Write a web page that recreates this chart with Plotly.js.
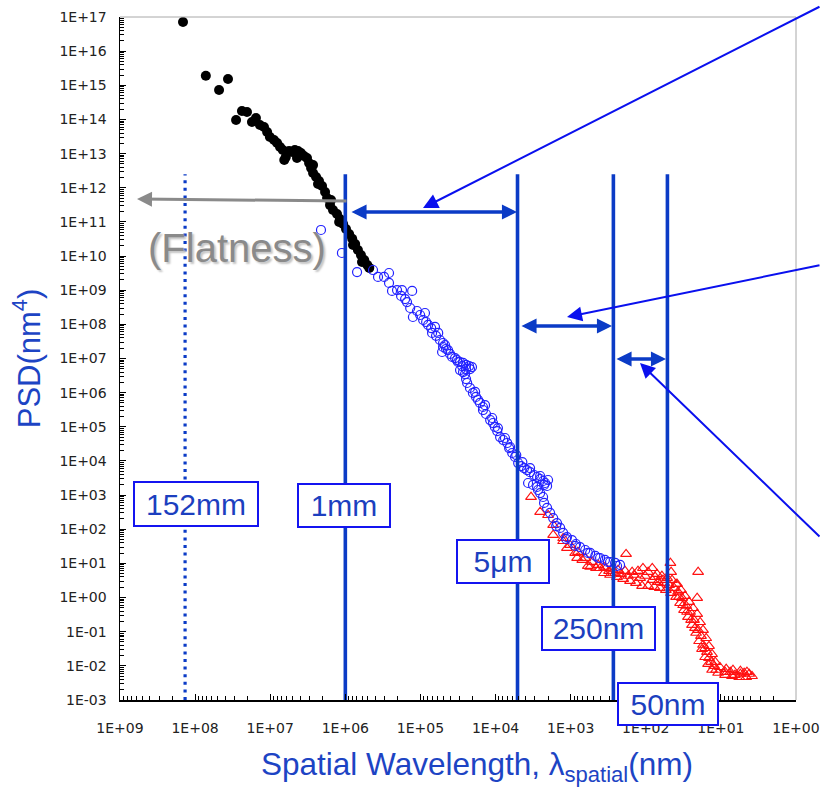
<!DOCTYPE html>
<html>
<head>
<meta charset="utf-8">
<script src="https://cdn.plot.ly/plotly-3.0.1.min.js"></script>
<style>html,body{margin:0;padding:0;background:#fff;}#chart{width:821px;height:788px;}</style>
</head>
<body>
<div id="chart"></div>
<script>
// ---- tick labels ----
const xTickVals = [1e9, 1e8, 1e7, 1e6, 1e5, 1e4, 1e3, 1e2, 1e1, 1e0];
const xTickText = ['1E+09','1E+08','1E+07','1E+06','1E+05','1E+04','1E+03','1E+02','1E+01','1E+00'];
const yTickVals = [1e17,1e16,1e15,1e14,1e13,1e12,1e11,1e10,1e9,1e8,1e7,1e6,1e5,1e4,1e3,1e2,1e1,1e0,1e-1,1e-2,1e-3];
const yTickText = ['1E+17','1E+16','1E+15','1E+14','1E+13','1E+12','1E+11','1E+10','1E+09','1E+08','1E+07','1E+06','1E+05','1E+04','1E+03','1E+02','1E+01','1E+00','1E-01','1E-02','1E-03'];

// ---- black series (filled circles) ----
const blackWavelength = [1.45e8,7.2e7,4.8e7,3.65e7,2.85e7,2.38e7,2.04e7,1.75e7,1.55e7,
  1.37e7,1.21e7,1.10e7,1.01e7,8.9e6,8.1e6,7.4e6,6.8e6,6.2e6,5.6e6,5.1e6,4.7e6,4.27e6,3.9e6,3.55e6,3.24e6,
  3.04e6,2.86e6,2.69e6,2.45e6,2.24e6,2.04e6,1.86e6,1.75e6,1.6e6,1.46e6,1.29e6,1.18e6,1.07e6,9.8e5,8.9e5,
  8.1e5,7.4e5,6.8e5,6.2e5,5.6e5,5.1e5,4.8e5,
  6.5e6,4.4e6,2.31e6,1.55e6,1.21e6,7.9e5,6.0e5,2.69e6];
const blackPSD = [7.1e16,1.9e15,7.3e14,1.53e15,9.6e13,1.77e14,1.65e14,8.4e13,1.1e14,
  6.9e13,6.0e13,4.3e13,3.06e13,2.5e13,2.04e13,1.56e13,1.27e13,7.9e12,1.19e13,1.11e13,1.27e13,1.19e13,1.04e13,8.5e12,7.4e12,
  5.3e12,3.8e12,2.7e12,2.07e12,1.58e12,1.12e12,7.5e11,5.0e11,3.1e11,2.23e11,1.7e11,1.22e11,8.7e10,6.2e10,4.4e10,
  3.2e10,2.25e10,1.5e10,1.07e10,7.7e9,5.5e9,4.5e9,
  6.5e12,7.4e12,1.29e12,4.4e11,9.9e10,2.1e10,6.7e9,4.6e12];

// ---- blue series (open circles) ----
const blueWavelength = [2.11e6,1.11e6,6.98e5,4.28e5,3.67e5,3.05e5,2.62e5,2.62e5,2.39e5,2.05e5,1.76e5,1.29e5,1.81e5,1.6e5,
  1.51e5,1.37e5,1.26e5,1.11e5,1.01e5,8.7e4,9.2e4,8.4e4,7.9e4,7.2e4,6.4e4,7.0e4,6.2e4,5.8e4,5.5e4,5.0e4,5.0e4,4.56e4,
  5.15e4,4.29e4,4.04e4,3.79e4,3.46e4,3.26e4,2.97e4,2.71e4,2.47e4,2.25e4,2.06e4,2.19e4,
  4.7e4,3.16e4,2.47e4,2.79e4,
  2.97e4,2.71e4,2.55e4,2.47e4,2.39e4,2.19e4,2.0e4,1.82e4,1.71e4,1.61e4,1.47e4,1.47e4,1.34e4,1.18e4,1.08e4,1.02e4,
  9.5e3,8.7e3,7.9e3,7.0e3,6.6e3,6.0e3,5.5e3,5.0e3,4.57e3,4.18e3,3.81e3,3.47e3,3.07e3,2.8e3,2.55e3,2.33e3,2.19e3,2.26e3,
  1.87e4,1.38e4,1.11e4,9.3e3,7.5e3,6.4e3,5.3e3,4.4e3,3.47e3,2.55e3,2.0e3,2.06e3,
  3.69e3,3.17e3,2.8e3,2.72e3,2.55e3,2.33e3,2.26e3,2.06e3,1.88e3,1.71e3,1.52e3,1.38e3,1.26e3,1.12e3,9.6e2,8.5e2,7.5e2,
  6.4e2,5.5e2,4.7e2,4.06e2,3.5e2,2.99e2,2.56e2,2.2e2,
  1.56e3,1.15e3,8.7e2,5.9e2,4.3e2,3.2e2,2.41e2];
const bluePSD = [5.8e10,1.23e10,3.4e9,3.9e9,2.44e9,2.44e9,3.19e9,1.63e9,9.5e8,1.01e9,1.01e9,9.5e8,6.8e8,5.5e8,
  4.5e8,3.01e8,1.64e8,2.46e8,1.88e8,2.15e8,1.34e8,1.17e8,9.6e7,7.8e7,8.4e7,5.6e7,4.6e7,5.6e7,3.48e7,2.84e7,2.17e7,1.9e7,
  1.55e7,1.77e7,1.36e7,1.11e7,1.03e7,9.0e6,7.9e6,7.4e6,6.5e6,6.0e6,5.6e6,4.9e6,
  2.48e7,7.9e6,4.9e6,6.0e6,
  4.6e6,4.0e6,3.5e6,2.5e6,1.92e6,1.37e6,9.8e5,7.5e5,6.1e5,5.0e5,3.8e5,3.1e5,2.37e5,1.58e5,1.29e5,9.9e4,
  7.5e4,5.0e4,4.1e4,3.36e4,2.39e4,1.71e4,1.31e4,8.7e3,7.1e3,6.2e3,5.4e3,4.7e3,3.88e3,3.39e3,2.96e3,2.59e3,2.26e3,1.98e3,
  1.05e6,4.3e5,1.81e5,9.2e4,4.7e4,2.56e4,1.49e4,9.3e3,6.2e3,3.62e3,2.77e3,1.85e3,
  2.26e3,1.98e3,1.73e3,1.41e3,1.15e3,8.8e2,5.9e2,4.2e2,3.0e2,2.13e2,1.52e2,1.09e2,7.8e1,5.9e1,4.8e1,3.7e1,3.0e1,
  2.47e1,2.02e1,1.65e1,1.44e1,1.26e1,1.1e1,1.03e1,9.0,
  1.24e2,5.2e1,3.24e1,2.02e1,1.44e1,1.1e1,8.4];

// ---- red series (open triangles) ----
const redWavelength = [3.37e3,2.55e3,2.0e3,1.71e3,1.71e3,1.26e3,1.26e3,1.02e3,1.12e3,8.7e2,8.0e2,8.2e2,7.0e2,6.4e2,
  5.9e2,5.5e2,5.2e2,4.6e2,4.3e2,4.06e2,3.6e2,1.83e2,4.7e1,4.6e1,2.01e1,2.07e1,3.95e1,
  3.4e2,2.81e2,2.34e2,1.89e2,1.52e2,1.27e2,1.09e2,9.3e1,8.2e1,7.1e1,6.1e1,5.2e1,4.47e1,3.83e1,3.39e1,3.0e1,2.65e1,
  2.34e1,2.07e1,1.89e1,1.73e1,1.57e1,1.44e1,1.31e1,1.19e1,1.03e1,8.5,6.9,5.5,4.5,3.85,
  3.6e2,2.99e2,2.41e2,2.0e2,1.62e2,1.35e2,1.12e2,9.3e1,7.7e1,6.5e1,5.4e1,4.6e1,3.95e1,3.49e1,3.09e1,2.74e1,2.42e1,
  2.14e1,1.95e1,1.78e1,1.62e1,1.48e1,1.31e1,1.09e1,8.8,7.1,5.7,4.6,
  2.56e2,1.72e2,1.19e2,8.2e1,5.7e1,4.2e1,3.29e1,2.57e1,2.01e1,1.62e1,1.35e1,8.8,5.5,
  3.08e2,2.13e2,1.43e2,1.02e2,6.9e1,4.9e1,3.72e1,2.9e1,2.28e1,1.84e1,1.53e1,1.23e1,7.5,4.9,
  7.5e1,5.9e1,3.6e1,3.18e1,2.82e1,2.49e1,2.21e1,1.73e1,1.44e1,1.16e1,6.5,4.2];
const redPSD = [8.8e2,3.2e2,2.6e2,1.33e2,6.8e1,5.5e1,4.5e1,3.46e1,2.82e1,2.02e1,2.16e1,1.44e1,1.26e1,1.44e1,
  8.4,7.9,1.1e1,7.3,9.0,7.3,7.9,1.88e1,1.03e1,5.6,5.6,0.97,2.49,
  7.3,6.9,6.4,6.0,5.6,6.0,7.3,5.6,7.3,4.9,4.3,3.73,3.27,2.49,1.66,1.11,0.74,
  0.49,0.33,0.19,0.112,0.065,0.038,0.022,0.013,0.0092,0.0081,0.0076,0.0071,0.0066,0.0050,
  5.2,4.6,4.0,3.49,3.05,2.67,2.18,2.18,2.04,1.91,1.66,1.36,1.04,0.69,0.43,0.27,0.157,
  0.092,0.053,0.031,0.018,0.0113,0.0076,0.0062,0.0054,0.0050,0.0047,0.0047,
  5.2,4.3,3.73,3.27,2.67,1.91,0.97,0.38,0.112,0.033,0.013,0.0066,0.0058,
  6.0,4.9,4.6,4.3,2.85,2.33,1.46,0.57,0.22,0.075,0.0255,0.0099,0.0066,0.0062,
  4.0,3.27,1.04,0.6,0.38,0.22,0.128,0.041,0.017,0.0076,0.0054,0.0058];

// ---- scale boundaries ----
const boundaryNames = ['152mm','1mm','5μm','250nm','50nm'];
const boundaryWavelength = [1.36e8, 1.0e6, 5.1e3, 2.7e2, 5.15e1];
const boundaryTopPSD = 2.5e12;
const boundaryBottomPSD = 1e-3;

const lineBlue = '#0b3bc6';
const textBlue = '#1c3fbf';
const boxBlue = '#1414f0';
const calloutBlue = '#0a10ee';

const traces = [];
traces.push({type:'scatter', mode:'markers', x:redWavelength, y:redPSD, hoverinfo:'skip',
  marker:{symbol:'triangle-up-open', size:9.5, color:'#ff1010', line:{width:1.1}}});
traces.push({type:'scatter', mode:'markers', x:blackWavelength, y:blackPSD, hoverinfo:'skip',
  marker:{symbol:'circle', size:10, color:'#000000', line:{width:0}}});
traces.push({type:'scatter', mode:'markers', x:blueWavelength, y:bluePSD, hoverinfo:'skip',
  marker:{symbol:'circle-open', size:9, color:'#2222ff', line:{width:1.2}}});
boundaryWavelength.forEach((w, i) => {
  traces.push({type:'scatter', mode:'lines', x:[w, w], y:[boundaryBottomPSD, boundaryTopPSD], hoverinfo:'skip',
    line: i === 0 ? {color:lineBlue, width:3.2, dash:'3px,4.6px'} : {color:lineBlue, width:3.6}});
});

// paper coordinate helpers for decorations (plot area 120..796 x 17..700)
const PX = p => (p - 120) / 676;
const PY = p => (700 - p) / 683;

const labelBoxes = [
  {cx:196, cy:504, w:122, h:42},
  {cx:344, cy:505.5, w:90, h:41},
  {cx:503, cy:561.5, w:90, h:41},
  {cx:598.5, cy:628.5, w:111, h:41},
  {cx:668, cy:704, w:98, h:40}
];
const annotations = [];
// gray flatness arrow
annotations.push({xref:'paper', yref:'paper', x:PX(137), y:PY(199), ax:211, ay:2, text:'', showarrow:true,
  arrowhead:2, arrowsize:1.0, arrowwidth:3, arrowcolor:'#8a8a8a'});
annotations.push({xref:'paper', yref:'paper', x:PX(237), y:PY(248), xanchor:'center', yanchor:'middle',
  text:'(Flatness)', showarrow:false,
  font:{family:'Liberation Sans, Arial, sans-serif', size:40, color:'#8a8a8a', shadow:'2px 2px 2px #c4c4c4'}});
// double arrows between boundaries
[[517,212,350],[612,326,520],[666,359,615]].forEach(a => {
  annotations.push({xref:'paper', yref:'paper', x:PX(a[0]), y:PY(a[1]), ax:a[2]-a[0], ay:0, text:'', showarrow:true,
    arrowside:'end+start', arrowhead:2, startarrowhead:2, arrowsize:0.86, startarrowsize:0.86,
    arrowwidth:3.5, arrowcolor:lineBlue});
});
// thin callout arrows
[[423,208,821,6],[567,317,821,265],[640,363,821,538]].forEach(a => {
  annotations.push({xref:'paper', yref:'paper', x:PX(a[0]), y:PY(a[1]), ax:a[2]-a[0], ay:a[3]-a[1], text:'', showarrow:true,
    arrowhead:2, arrowsize:1.5, arrowwidth:2, arrowcolor:calloutBlue});
});
// label boxes
boundaryNames.forEach((name, i) => {
  const b = labelBoxes[i];
  annotations.push({xref:'paper', yref:'paper', x:PX(b.cx), y:PY(b.cy), xanchor:'center', yanchor:'middle',
    text:name, showarrow:false,
    width:b.w, height:b.h, borderpad:0, borderwidth:2, bordercolor:boxBlue, bgcolor:'#ffffff',
    font:{family:'Liberation Sans, Arial, sans-serif', size:30, color:textBlue}});
});
// x axis title
annotations.push({xref:'paper', yref:'paper', x:PX(477), y:PY(766), xanchor:'center', yanchor:'middle', showarrow:false,
  text:'Spatial Wavelength, λ<sub>spatial</sub>(nm)',
  font:{family:'Liberation Sans, Arial, sans-serif', size:31.5, color:'#1d44c4'}});

const tickFont = {family:'DejaVu Sans, sans-serif', size:14, color:'#222222'};
const layout = {
  width:821, height:788,
  margin:{l:120, r:25, t:17, b:88, pad:0},
  paper_bgcolor:'#ffffff', plot_bgcolor:'#ffffff',
  showlegend:false,
  xaxis:{type:'log', range:[9,0], tickmode:'array', tickvals:xTickVals, ticktext:xTickText,
    ticks:'inside', ticklen:6, tickwidth:1, tickcolor:'#000', showline:true, linecolor:'#000', linewidth:1.5,
    showgrid:false, zeroline:false, tickfont:tickFont, ticklabelstandoff:15, automargin:false,
    minor:{ticks:'inside', ticklen:4, tickwidth:1, tickcolor:'#000', dtick:'D1', showgrid:false}},
  yaxis:{type:'log', range:[-3,17], tickmode:'array', tickvals:yTickVals, ticktext:yTickText,
    ticks:'inside', ticklen:6, tickwidth:1, tickcolor:'#000', showline:true, linecolor:'#000', linewidth:1.5,
    showgrid:false, zeroline:false, tickfont:tickFont, ticklabelstandoff:9, automargin:false,
    minor:{ticks:'inside', ticklen:4, tickwidth:1, tickcolor:'#000', dtick:'D1', showgrid:false},
    title:{text:'PSD(nm<sup>4</sup>)', standoff:9, font:{family:'Liberation Sans, Arial, sans-serif', size:31, color:'#1d44c4'}}},
  shapes:[
    {type:'line', xref:'paper', yref:'paper', x0:0, x1:1, y0:1, y1:1, line:{color:'#a8a8a8', width:1}},
    {type:'line', xref:'paper', yref:'paper', x0:1, x1:1, y0:0, y1:1, line:{color:'#a8a8a8', width:1}}
  ],
  annotations: annotations
};
Plotly.newPlot('chart', traces, layout, {staticPlot:true, displayModeBar:false});
</script>
</body>
</html>
